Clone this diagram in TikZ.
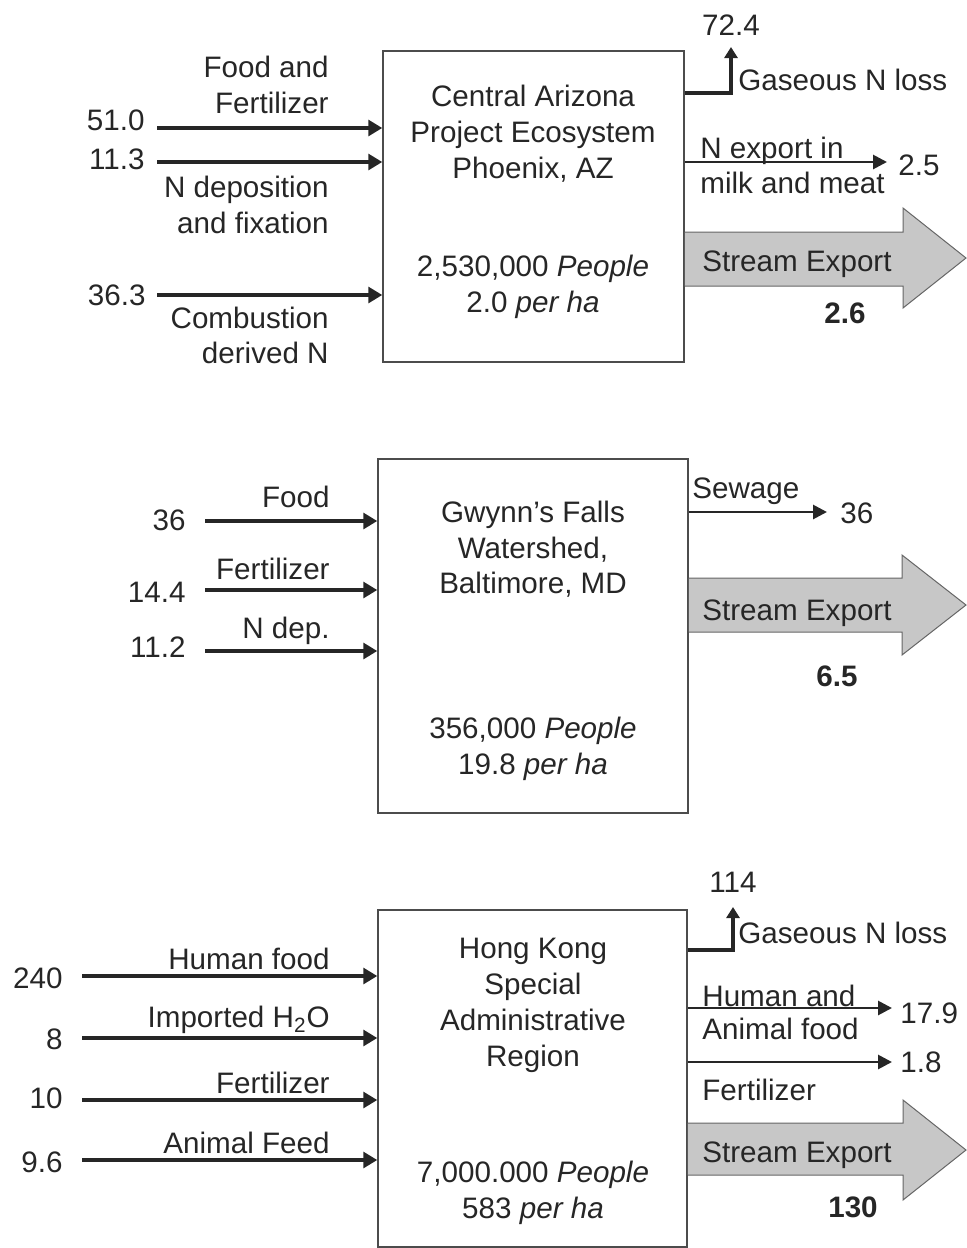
\documentclass[tikz,border=0pt]{standalone}
\usepackage{fontspec}
\setmainfont{Liberation Sans}
\usetikzlibrary{arrows.meta}

\begin{document}
\begin{tikzpicture}[x=0.5pt,y=0.5pt,yscale=-1,xscale=1,
  every node/.style={font=\fontsize{14.8}{18}\selectfont, text=black!85, inner sep=0pt},
  lbl/.style={text height=10.6pt, text depth=0pt},
  lblr/.style={lbl, anchor=east},
  lbll/.style={lbl, anchor=west},
  sysbox/.style={draw=black!70, line width=0.75pt, fill=white},
  inflow/.style={draw=black!85, line width=1.6pt, -{Triangle[length=7pt,width=8pt]}},
  outflow/.style={draw=black!85, line width=1.4pt, -{Triangle[length=7pt,width=7pt]}},
  gasflow/.style={draw=black!85, line width=2pt, -{Triangle[length=5.5pt,width=6.5pt]}},
  streamarrow/.style={draw=black!60, line width=0.5pt, fill=black!22}]
\useasboundingbox (0,0) rectangle (966,1248);

%% ---------- Central Arizona ----------
\node[sysbox, minimum width=150.5pt, minimum height=155.5pt] (azbox) at (533.5,206.5) {};
% Text Node
\node[lbl] (aztitle1) at (533,96) {Central Arizona};
\node[lbl] (aztitle2) at (533,132) {Project Ecosystem};
\node[lbl] (aztitle3) at (533,168) {Phoenix, AZ};
\node[lbl] (azpeople) at (533,266) {2,530,000 \textit{People}};
\node[lbl] (azdens) at (533,302) {2.0 \textit{per ha}};

% inputs
\coordinate (azin1) at (157,128);
\coordinate (azin2) at (157,162);
\coordinate (azin3) at (157,295);
\draw[inflow] (azin1) -- (azin1 -| azbox.west);
\draw[inflow] (azin2) -- (azin2 -| azbox.west);
\draw[inflow] (azin3) -- (azin3 -| azbox.west);
% Text Node
\node[lblr] (azv1) at (145,120) {51.0};
\node[lblr] (azv2) at (145,159) {11.3};
\node[lblr] (azv3) at (146,295) {36.3};
\node[lblr] (azfood1) at (329,67) {Food and};
\node[lblr] (azfood2) at (329,103) {Fertilizer};
\node[lblr] (azndep1) at (329,187) {N deposition};
\node[lblr] (azndep2) at (329,223) {and fixation};
\node[lblr] (azcomb1) at (329,318) {Combustion};
\node[lblr] (azcomb2) at (329,353) {derived N};

% outputs
\coordinate (azgasfrom) at (684,93);
\coordinate (azgas) at (731,47);
\draw[gasflow] (azgasfrom -| azbox.east) -| (azgas);
\coordinate (azexp) at (887,162);
\draw[outflow] (azexp -| azbox.east) -- (azexp);
\draw[streamarrow] (azbox.east |- 0,232) -- (903,232) -- (903,208) -- (966,258)
  -- (903,308) -- (903,286) -- (azbox.east |- 0,286);
% Text Node
\node[lbl] (azgasv) at (731,25) {72.4};
\node[lbll] (azgasl) at (738,80) {Gaseous N loss};
\node[lbll] (azexpl1) at (700,148) {N export in};
\node[lbll] (azexpl2) at (700,183) {milk and meat};
\node[lbll] (azexpv) at (898,165) {2.5};
\node[lbll] (azstream) at (702,261) {Stream Export};
\node[lbl] (azstreamv) at (845,313) {\textbf{2.6}};

%% ---------- Gwynn's Falls ----------
\node[sysbox, minimum width=155pt, minimum height=177pt] (gfbox) at (533,636) {};
% Text Node
\node[lbl] (gftitle1) at (533,512) {Gwynn's Falls};
\node[lbl] (gftitle2) at (533,548) {Watershed,};
\node[lbl] (gftitle3) at (533,583) {Baltimore, MD};
\node[lbl] (gfpeople) at (533,728) {356,000 \textit{People}};
\node[lbl] (gfdens) at (533,764) {19.8 \textit{per ha}};

% inputs
\coordinate (gfin1) at (205,521);
\coordinate (gfin2) at (205,590);
\coordinate (gfin3) at (205,651);
\draw[inflow] (gfin1) -- (gfin1 -| gfbox.west);
\draw[inflow] (gfin2) -- (gfin2 -| gfbox.west);
\draw[inflow] (gfin3) -- (gfin3 -| gfbox.west);
% Text Node
\node[lblr] (gfv1) at (186,520) {36};
\node[lblr] (gfv2) at (186,592) {14.4};
\node[lblr] (gfv3) at (186,647) {11.2};
\node[lblr] (gffood) at (330,497) {Food};
\node[lblr] (gffert) at (330,569) {Fertilizer};
\node[lblr] (gfndep) at (330,628) {N dep.};

% outputs
\coordinate (gfsew) at (827,512);
\draw[outflow] (gfsew -| gfbox.east) -- (gfsew);
\draw[streamarrow] (gfbox.east |- 0,578) -- (902,578) -- (902,555) -- (966,605)
  -- (902,655) -- (902,632) -- (gfbox.east |- 0,632);
% Text Node
\node[lbll] (gfsewl) at (692,488) {Sewage};
\node[lbll] (gfsewv) at (840,513) {36};
\node[lbll] (gfstream) at (702,610) {Stream Export};
\node[lbl] (gfstreamv) at (837,676) {\textbf{6.5}};

%% ---------- Hong Kong ----------
\node[sysbox, minimum width=154.5pt, minimum height=168.5pt] (hkbox) at (532.5,1078.5) {};
% Text Node
\node[lbl] (hktitle1) at (533,948) {Hong Kong};
\node[lbl] (hktitle2) at (533,984) {Special};
\node[lbl] (hktitle3) at (533,1020) {Administrative};
\node[lbl] (hktitle4) at (533,1056) {Region};
\node[lbl] (hkpeople) at (533,1172) {7,000.000 \textit{People}};
\node[lbl] (hkdens) at (533,1208) {583 \textit{per ha}};

% inputs
\coordinate (hkin1) at (82,976);
\coordinate (hkin2) at (82,1038);
\coordinate (hkin3) at (82,1100);
\coordinate (hkin4) at (82,1160);
\draw[inflow] (hkin1) -- (hkin1 -| hkbox.west);
\draw[inflow] (hkin2) -- (hkin2 -| hkbox.west);
\draw[inflow] (hkin3) -- (hkin3 -| hkbox.west);
\draw[inflow] (hkin4) -- (hkin4 -| hkbox.west);
% Text Node
\node[lblr] (hkv1) at (63,978) {240};
\node[lblr] (hkv2) at (63,1039) {8};
\node[lblr] (hkv3) at (63,1098) {10};
\node[lblr] (hkv4) at (63,1162) {9.6};
\node[lblr] (hkfood) at (330,959) {Human food};
\node[lblr] (hkwater) at (330,1017) {Imported H\textsubscript{2}O};
\node[lblr] (hkfert) at (330,1083) {Fertilizer};
\node[lblr] (hkfeed) at (330,1143) {Animal Feed};

% outputs
\coordinate (hkgasfrom) at (687,950);
\coordinate (hkgas) at (733,907);
\draw[gasflow] (hkgasfrom -| hkbox.east) -| (hkgas);
\coordinate (hkexp1) at (892,1008);
\coordinate (hkexp2) at (892,1062);
\draw[outflow] (hkexp1 -| hkbox.east) -- (hkexp1);
\draw[outflow] (hkexp2 -| hkbox.east) -- (hkexp2);
\draw[streamarrow] (hkbox.east |- 0,1123) -- (903,1123) -- (903,1100) -- (966,1150)
  -- (903,1200) -- (903,1175) -- (hkbox.east |- 0,1175);
% Text Node
\node[lbl] (hkgasv) at (733,882) {114};
\node[lbll] (hkgasl) at (738,933) {Gaseous N loss};
\node[lbll] (hkexpl1) at (702,996) {Human and};
\node[lbll] (hkexpl2) at (702,1029) {Animal food};
\node[lbll] (hkexpv1) at (900,1013) {17.9};
\node[lbll] (hkexpv2) at (900,1062) {1.8};
\node[lbll] (hkfertl) at (702,1090) {Fertilizer};
\node[lbll] (hkstream) at (702,1152) {Stream Export};
\node[lbl] (hkstreamv) at (853,1207) {\textbf{130}};

\end{tikzpicture}
\end{document}
